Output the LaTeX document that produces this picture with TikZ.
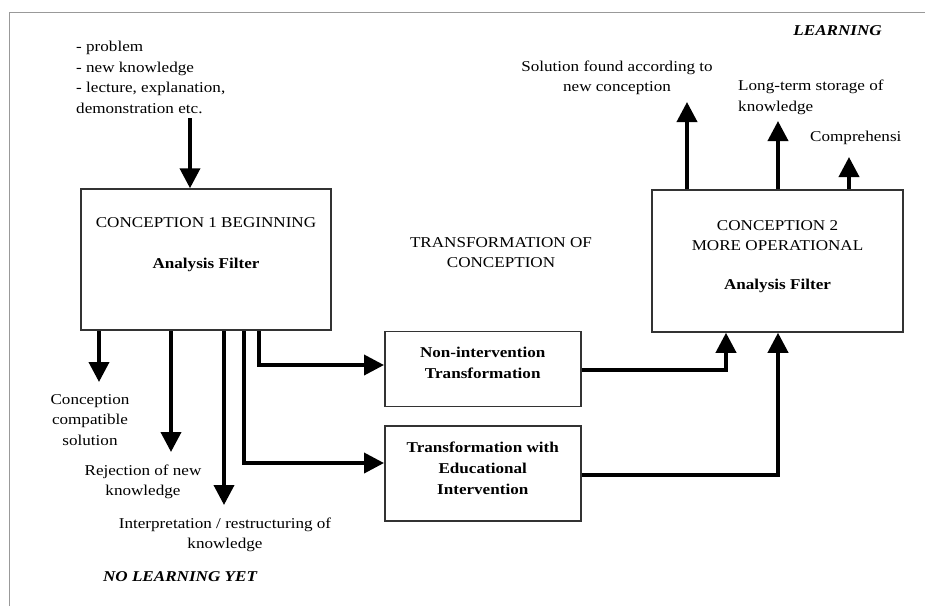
\documentclass[tikz,border=0pt]{standalone}
\usepackage{fontspec}
\setmainfont[FakeStretch=1.14]{Liberation Serif}
\usetikzlibrary{arrows.meta}
\begin{document}
\begin{tikzpicture}[x=1pt,y=-1pt,
  box/.style={draw=black!80,line width=1.5pt,inner sep=0pt},
  arr/.style={line width=3.8pt,-{Triangle[length=20pt,width=20pt]}},
  lbl/.style={font=\fontsize{15}{20.5}\selectfont,align=center,inner sep=0pt},
  bl/.style={font=\fontsize{15}{21}\selectfont\bfseries,align=center,inner sep=0pt},
  tl/.style={font=\fontsize{15}{20}\selectfont,align=center,inner sep=0pt},
  bi/.style={font=\fontsize{15}{17}\selectfont\bfseries\itshape,inner sep=0pt},
]
\useasboundingbox (0,0) rectangle (925,606);
\draw[black!40,line width=0.8pt] (9,606) -- (9,12) -- (925,12);

% boxes
\node[box,minimum width=250pt,minimum height=141pt] (c1) at (206,259.5) {};
\node[box,minimum width=251pt,minimum height=142pt] (c2) at (777.5,261) {};
\node[box,minimum width=196pt,minimum height=75pt] (non) at (482.75,369) {};
\node[box,minimum width=196pt,minimum height=95pt] (edu) at (482.75,473.5) {};

% box texts
\node[tl] (c1t) at (206,223) {CONCEPTION 1 BEGINNING};
\node[bl] (c1f) at (206,265) {Analysis Filter};
\node[tl] (c2t) at (777.5,235.5) {CONCEPTION 2\\MORE OPERATIONAL};
\node[bl] (c2f) at (777.5,286) {Analysis Filter};
\node[bl] (nont) at (482.75,363) {Non-intervention\\Transformation};
\node[bl] (edut) at (482.75,468) {Transformation with\\Educational\\Intervention};
\node[tl] (trc) at (501,252.5) {TRANSFORMATION OF\\CONCEPTION};

% input
\node[lbl,align=left,anchor=north west] (inp) at (76,41) {- problem\\- new knowledge\\- lecture, explanation,\\demonstration etc.};
\coordinate (in1) at (190,118);
\coordinate (xin) at (190,0);
\draw[arr] (in1) -- (c1.north -| xin);

% learning outputs
\node[bi,anchor=east] (learn) at (882,31) {LEARNING};
\node[lbl] (sol) at (617,78) {Solution found according to\\new conception};
\node[lbl,align=left,anchor=north west] (lts) at (738,80) {Long-term storage of\\knowledge};
\node[lbl,anchor=west] (comp) at (810,138) {Comprehensi};
\coordinate (o1) at (687,102);
\coordinate (o2) at (778,121);
\coordinate (o3) at (849,157);
\draw[arr] (c2.north -| o1) -- (o1);
\draw[arr] (c2.north -| o2) -- (o2);
\draw[arr] (c2.north -| o3) -- (o3);

% no learning outputs
\coordinate (d1) at (99,382);
\coordinate (d2) at (171,452);
\coordinate (d3) at (224,505);
\draw[arr] (c1.south -| d1) -- (d1);
\draw[arr] (c1.south -| d2) -- (d2);
\draw[arr] (c1.south -| d3) -- (d3);
\node[lbl] (ccs) at (90,420) {Conception\\compatible\\solution};
\node[lbl] (rej) at (143,482) {Rejection of new\\knowledge};
\node[lbl] (intp) at (225,535) {Interpretation / restructuring of\\knowledge};
\node[bi] (nly) at (180,577) {NO LEARNING YET};

% transformations
\coordinate (r1) at (259,365);
\coordinate (r2) at (244,463);
\draw[arr] (c1.south -| r1) -- (r1) -- (r1 -| non.west);
\draw[arr] (c1.south -| r2) -- (r2) -- (r2 -| edu.west);
\coordinate (u1) at (726,370);
\coordinate (u2) at (778,475);
\draw[arr] (non.east |- u1) -- (u1) -- (c2.south -| u1);
\draw[arr] (edu.east |- u2) -- (u2) -- (c2.south -| u2);
\end{tikzpicture}
\end{document}
